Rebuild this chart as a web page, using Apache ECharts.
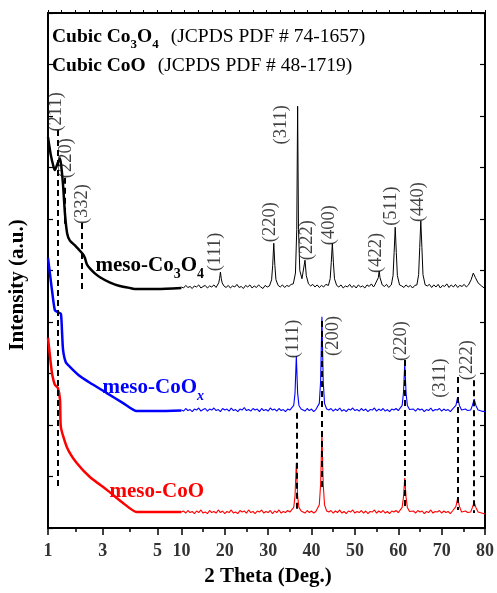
<!DOCTYPE html>
<html>
<head>
<meta charset="utf-8">
<script src="https://cdn.jsdelivr.net/npm/echarts@6.0.0/dist/echarts.min.js"></script>
<style>
  html, body { margin: 0; padding: 0; background: #fff; }
  #chart { width: 497px; height: 593px; }
</style>
</head>
<body>
<div id="chart"></div>
<script>
// 2 theta (deg) / intensity (a.u., stacked offsets)
const co3o4Low = [[1.00,7.59],[1.10,7.25],[1.20,7.02],[1.25,6.95],[1.35,7.08],[1.44,7.18],[1.50,6.95],[1.55,6.66],[1.62,6.10],[1.70,5.72],[1.80,5.58],[2.00,5.48],[2.24,5.34],[2.30,5.30],[2.35,5.24],[2.42,5.12],[2.53,5.04],[2.70,4.95],[2.90,4.87],[3.25,4.77],[3.62,4.70],[4.00,4.66],[4.24,4.64],[5.00,4.64],[10.0,4.66]]
const co3o4Wide = [[10,4.68],[10.5,4.66],[11,4.71],[11.5,4.67],[12,4.69],[12.5,4.65],[13,4.70],[13.5,4.68],[14,4.72],[14.5,4.66],[15,4.69],[15.5,4.71],[16,4.66],[16.5,4.70],[17,4.68],[17.5,4.72],[18,4.67],
  [18.2,4.70],[18.6,4.76],[18.8,4.84],[19.0,4.97],[19.2,4.84],[19.4,4.76],[19.8,4.70],
  [20.3,4.67],[20.8,4.71],[21.3,4.66],[21.8,4.70],[22.3,4.68],[22.8,4.73],[23.3,4.67],[23.8,4.69],[24.3,4.65],[24.8,4.71],[25.3,4.68],[25.8,4.72],[26.3,4.66],[26.8,4.70],[27.3,4.67],[27.8,4.72],[28.3,4.68],[28.8,4.65],[29.3,4.71],[29.8,4.68],
  [30.3,4.70],[30.8,4.82],[31.05,5.10],[31.3,5.53],[31.55,5.10],[31.8,4.82],[32.3,4.71],
  [32.8,4.68],[33.3,4.72],[33.8,4.67],[34.3,4.71],[34.8,4.69],[35.3,4.73],
  [35.8,4.74],[36.3,4.95],[36.6,5.80],[36.8,8.19],[37.0,5.80],[37.3,5.00],[37.8,4.84],[38.2,4.86],[38.5,5.20],[38.8,4.90],[39.3,4.74],
  [39.8,4.70],[40.3,4.73],[40.8,4.68],[41.3,4.72],[41.8,4.67],[42.3,4.71],[42.8,4.68],[43.3,4.73],
  [43.9,4.71],[44.3,4.84],[44.55,5.15],[44.8,5.53],[45.05,5.15],[45.3,4.84],[45.8,4.71],
  [46.3,4.68],[46.8,4.72],[47.3,4.66],[47.8,4.70],[48.3,4.68],[48.8,4.73],[49.3,4.67],[49.8,4.71],[50.3,4.66],[50.8,4.72],[51.3,4.68],[51.8,4.70],[52.3,4.66],[52.8,4.72],[53.3,4.69],[53.8,4.74],[54.3,4.68],[54.6,4.72],
  [55.0,4.72],[55.4,4.86],[55.6,4.99],[55.8,4.86],[56.3,4.72],
  [56.8,4.69],[57.3,4.73],[57.8,4.67],
  [58.4,4.72],[58.8,4.90],[59.05,5.35],[59.3,5.84],[59.55,5.35],[59.8,4.90],[60.3,4.72],
  [60.8,4.70],[61.3,4.67],[61.8,4.72],[62.3,4.68],[62.8,4.71],[63.3,4.66],[63.8,4.71],
  [64.3,4.72],[64.7,4.92],[64.95,5.45],[65.2,5.96],[65.45,5.45],[65.7,4.92],[66.2,4.72],
  [66.7,4.70],[67.2,4.73],[67.7,4.67],[68.2,4.72],[68.7,4.68],[69.2,4.73],[69.7,4.66],[70.2,4.71],[70.7,4.69],[71.2,4.74],[71.7,4.67],[72.2,4.72],[72.7,4.68],[73.2,4.73],[73.7,4.67],[74.2,4.71],[74.7,4.69],[75.2,4.73],[75.7,4.68],
  [76.2,4.72],[76.8,4.82],[77.3,4.95],[77.8,4.86],[78.4,4.76],[78.8,4.73],[79.2,4.70],[79.6,4.68],[80,4.65]]

const cooxLow = [[1.00,5.24],[1.08,4.90],[1.145,4.62],[1.25,4.23],[1.36,4.19],[1.47,4.16],[1.51,3.84],[1.55,3.46],[1.65,3.22],[1.80,3.13],[2.16,2.95],[2.53,2.82],[3.15,2.62],[3.73,2.43],[4.24,2.27],[5.00,2.27],[10.0,2.28]]
const cooxWide = [[10,2.29],[10.5,2.27],[11,2.32],[11.5,2.28],[12,2.30],[12.5,2.26],[13,2.31],[13.5,2.29],[14,2.33],[14.5,2.27],[15,2.30],[15.5,2.32],[16,2.27],[16.5,2.31],[17,2.29],[17.5,2.33],[18,2.28],[18.5,2.30],[19,2.26],[19.5,2.32],[20,2.29],[20.5,2.31],[21,2.27],[21.5,2.33],[22,2.28],[22.5,2.30],[23,2.26],[23.5,2.31],[24,2.29],[24.5,2.34],[25,2.28],[25.5,2.30],[26,2.27],[26.5,2.32],[27,2.29],[27.5,2.31],[28,2.26],[28.5,2.32],[29,2.28],[29.5,2.30],[30,2.27],[30.5,2.33],[31,2.29],[31.5,2.31],[32,2.27],[32.5,2.32],[33,2.28],[33.5,2.30],[34,2.26],[34.5,2.31],[35,2.29],
  [35.4,2.31],[35.9,2.38],[36.2,2.62],[36.5,3.34],[36.8,2.62],[37.1,2.38],[37.6,2.31],
  [38,2.30],[38.5,2.27],[39,2.32],[39.5,2.28],[40,2.31],[40.5,2.26],[41,2.30],
  [41.3,2.31],[41.8,2.42],[42.1,2.85],[42.4,4.10],[42.7,2.85],[43.0,2.42],[43.5,2.31],
  [44,2.29],[44.5,2.32],[45,2.27],[45.5,2.31],[46,2.28],[46.5,2.33],[47,2.27],[47.5,2.30],[48,2.26],[48.5,2.31],[49,2.29],[49.5,2.33],[50,2.28],[50.5,2.30],[51,2.27],[51.5,2.32],[52,2.28],[52.5,2.31],[53,2.26],[53.5,2.30],[54,2.29],[54.5,2.33],[55,2.27],[55.5,2.31],[56,2.28],[56.5,2.32],[57,2.27],[57.5,2.30],[58,2.26],[58.5,2.31],[59,2.29],[59.5,2.32],[60,2.28],
  [60.4,2.30],[60.9,2.38],[61.2,2.62],[61.5,3.20],[61.8,2.62],[62.1,2.38],[62.6,2.30],
  [63,2.28],[63.5,2.31],[64,2.27],[64.5,2.32],[65,2.29],[65.5,2.31],[66,2.26],[66.5,2.30],[67,2.28],[67.5,2.33],[68,2.27],[68.5,2.30],[69,2.29],[69.5,2.32],[70,2.27],[70.5,2.31],[71,2.28],[71.5,2.30],[72,2.26],[72.5,2.31],
  [72.9,2.29],[73.3,2.38],[73.7,2.54],[74.1,2.38],[74.6,2.29],
  [75,2.27],[75.5,2.31],[76,2.28],[76.3,2.30],
  [76.7,2.29],[77.1,2.38],[77.5,2.50],[77.9,2.38],[78.4,2.29],
  [78.8,2.30],[79.2,2.27],[79.6,2.29],[80,2.26]]

const cooLow = [[1.00,3.69],[1.08,3.30],[1.145,3.01],[1.25,2.78],[1.36,2.72],[1.44,2.49],[1.47,1.96],[1.69,1.57],[2.05,1.26],[2.53,0.99],[3.15,0.74],[3.73,0.49],[4.24,0.31],[5.00,0.31],[10.0,0.31]]
const cooWide = [[10,0.31],[10.5,0.33],[11,0.29],[11.5,0.34],[12,0.30],[12.5,0.32],[13,0.28],[13.5,0.33],[14,0.30],[14.5,0.35],[15,0.29],[15.5,0.31],[16,0.28],[16.5,0.34],[17,0.30],[17.5,0.32],[18,0.29],[18.5,0.35],[19,0.30],[19.5,0.33],[20,0.28],[20.5,0.32],[21,0.30],[21.5,0.35],[22,0.29],[22.5,0.31],[23,0.28],[23.5,0.34],[24,0.31],[24.5,0.33],[25,0.29],[25.5,0.35],[26,0.30],[26.5,0.32],[27,0.28],[27.5,0.33],[28,0.31],[28.5,0.35],[29,0.29],[29.5,0.32],[30,0.30],[30.5,0.34],[31,0.28],[31.5,0.33],[32,0.30],[32.5,0.35],[33,0.29],[33.5,0.32],[34,0.30],[34.5,0.34],[35,0.31],
  [35.4,0.33],[35.9,0.40],[36.2,0.62],[36.5,1.26],[36.8,0.62],[37.1,0.40],[37.6,0.33],
  [38,0.32],[38.5,0.29],[39,0.34],[39.5,0.30],[40,0.33],[40.5,0.29],[41,0.32],
  [41.3,0.33],[41.8,0.45],[42.1,0.85],[42.4,1.84],[42.7,0.85],[43.0,0.45],[43.5,0.33],
  [44,0.31],[44.5,0.34],[45,0.29],[45.5,0.33],[46,0.30],[46.5,0.35],[47,0.29],[47.5,0.32],[48,0.28],[48.5,0.33],[49,0.31],[49.5,0.35],[50,0.29],[50.5,0.32],[51,0.30],[51.5,0.34],[52,0.29],[52.5,0.33],[53,0.28],[53.5,0.32],[54,0.31],[54.5,0.35],[55,0.29],[55.5,0.33],[56,0.30],[56.5,0.34],[57,0.29],[57.5,0.32],[58,0.28],[58.5,0.33],[59,0.31],[59.5,0.34],[60,0.30],
  [60.4,0.32],[60.9,0.40],[61.2,0.60],[61.5,0.97],[61.8,0.60],[62.1,0.40],[62.6,0.32],
  [63,0.30],[63.5,0.33],[64,0.29],[64.5,0.34],[65,0.31],[65.5,0.33],[66,0.28],[66.5,0.32],[67,0.30],[67.5,0.35],[68,0.29],[68.5,0.32],[69,0.31],[69.5,0.34],[70,0.29],[70.5,0.33],[71,0.30],[71.5,0.32],[72,0.28],[72.5,0.33],
  [72.9,0.31],[73.3,0.42],[73.7,0.58],[74.1,0.42],[74.6,0.31],
  [75,0.29],[75.5,0.33],[76,0.30],[76.3,0.32],
  [76.7,0.31],[77.1,0.40],[77.5,0.50],[77.9,0.40],[78.4,0.31],
  [78.8,0.32],[79.2,0.29],[79.6,0.31],[80,0.27]]

// reference lines (JCPDS positions)
const refTheta = [1.36, 1.62, 2.22, 36.5, 42.4, 61.5, 73.7, 77.5]
const refFrom = [7.73, 6.80, 5.92, 2.24, 4.02, 3.26, 2.93, 2.87]
const refTo = [0.78, 5.83, 4.62, 0.35, 0.74, 0.35, 0.35, 0.29]

// hkl annotations
const co3o4Hkl = ['(211)', '(220)', '(332)', '(111)', '(220)', '(311)', '(222)', '(400)', '(422)', '(511)', '(440)']
const co3o4HklTheta = [1.29, 1.65, 2.24, 17.8, 30.4, 33.0, 38.9, 44.0, 54.8, 58.4, 64.6]
const co3o4HklLevel = [8.08, 7.18, 6.29, 5.36, 5.94, 7.83, 5.59, 5.88, 5.34, 6.25, 6.33]
const cooxHkl = ['(111)', '(200)', '(220)', '(311)', '(222)']
const cooxHklTheta = [35.7, 45.1, 60.7, 69.7, 75.9]
const cooxHklLevel = [3.67, 3.73, 3.63, 2.91, 3.26]

const majorTicks = [1, 3, 5, 10, 20, 30, 40, 50, 60, 70, 80]
const minorTicks = [2, 4, 15, 25, 35, 45, 55, 65, 75]

// piecewise 2theta scale: 1-5 stretched, 5-10 squeezed, 10-80 linear
const thetaToAxis = (t) => {
  if (t <= 5) return (t - 1) * 27.5
  if (t <= 10) return 110 + (t - 5) * 4.8
  return 134 + (t - 10) * 4.357
}
const AX_MAX = thetaToAxis(80)
const toAxis = (pts) => pts.map(([t, v]) => [thetaToAxis(t), v])

const serif = '"Liberation Serif", "DejaVu Serif", serif'
const BLUE = '#0000ff'
const RED = '#ff0000'

const chart = echarts.init(document.getElementById('chart'))

const curve = (data, color, width) => ({
  type: 'line',
  data: toAxis(data),
  showSymbol: false,
  symbol: 'none',
  smooth: width > 2 ? 0.2 : false,
  lineStyle: { color, width },
  z: 3,
  animation: false,
})

const hklLabels = (names, thetas, levels) => ({
  type: 'scatter',
  symbolSize: 0,
  data: names.map((n, i) => ({ value: [thetaToAxis(thetas[i]), levels[i]], name: n })),
  label: {
    show: true,
    position: 'inside',
    rotate: 90,
    formatter: '{b}',
    color: '#111',
    fontFamily: serif,
    fontSize: 18.5,
  },
  z: 5,
  silent: true,
  animation: false,
})

const headBold = { fontFamily: serif, fontWeight: 'bold', fontSize: 19.5, lineHeight: 28, fill: '#000' }
const headSub = { fontFamily: serif, fontWeight: 'bold', fontSize: 13, lineHeight: 13, verticalAlign: 'bottom', fill: '#000' }
const headReg = { fontFamily: serif, fontSize: 19.5, lineHeight: 28, fill: '#000', padding: [0, 0, 0, 12] }

const option = {
  backgroundColor: '#fff',
  animation: false,
  grid: { left: 48, right: 10, top: 13, bottom: 65 },
  xAxis: [
    {
      type: 'value',
      position: 'bottom',
      min: 0,
      max: AX_MAX,
      axisLine: { show: true, onZero: false, lineStyle: { color: '#000', width: 2 } },
      axisTick: {
        show: true,
        customValues: majorTicks.map(thetaToAxis),
        length: 7,
        lineStyle: { color: '#000', width: 1.5 },
      },
      axisLabel: {
        customValues: majorTicks.map(thetaToAxis),
        formatter: (v) => {
          const hit = majorTicks.find((t) => Math.abs(thetaToAxis(t) - v) < 0.01)
          return hit === undefined ? '' : String(hit)
        },
        color: '#333',
        fontFamily: serif,
        fontWeight: 'bold',
        fontSize: 18,
        margin: 14,
      },
      splitLine: { show: false },
    },
    {
      type: 'value',
      position: 'bottom',
      min: 0,
      max: AX_MAX,
      axisLine: { show: false, onZero: false },
      axisTick: {
        show: true,
        customValues: minorTicks.map(thetaToAxis),
        length: 4,
        lineStyle: { color: '#000', width: 1.5 },
      },
      axisLabel: { show: false },
      splitLine: { show: false },
    },
    {
      type: 'value',
      position: 'top',
      min: 0,
      max: 32,
      interval: 1,
      axisLine: { show: true, onZero: false, lineStyle: { color: '#000', width: 2 } },
      axisTick: { show: true, length: 3, lineStyle: { color: '#000', width: 1 } },
      axisLabel: { show: false },
      splitLine: { show: false },
    },
  ],
  yAxis: [
    {
      type: 'value',
      position: 'left',
      min: 0,
      max: 10,
      interval: 1,
      axisLine: { show: true, onZero: false, lineStyle: { color: '#000', width: 2 } },
      axisTick: { show: true, inside: true, length: 5, lineStyle: { color: '#000', width: 1.2 } },
      axisLabel: { show: false },
      splitLine: { show: false },
    },
    {
      type: 'value',
      position: 'right',
      min: 0,
      max: 10,
      interval: 1,
      axisLine: { show: true, onZero: false, lineStyle: { color: '#000', width: 2 } },
      axisTick: { show: true, inside: true, length: 5, lineStyle: { color: '#000', width: 1.2 } },
      axisLabel: { show: false },
      splitLine: { show: false },
    },
  ],
  series: [
    curve(co3o4Low, '#000', 2.5),
    curve(co3o4Wide, '#000', 1),
    curve(cooxLow, BLUE, 2.5),
    curve(cooxWide, BLUE, 1.1),
    curve(cooLow, RED, 2.5),
    curve(cooWide, RED, 1.1),
    {
      type: 'line',
      data: [],
      markLine: {
        silent: true,
        symbol: 'none',
        label: { show: false },
        lineStyle: { color: '#000', type: [6, 4], width: 2 },
        data: refTheta.map((t, i) => [
          { coord: [thetaToAxis(t), refFrom[i]] },
          { coord: [thetaToAxis(t), refTo[i]] },
        ]),
        animation: false,
      },
      z: 4,
    },
    hklLabels(co3o4Hkl, co3o4HklTheta, co3o4HklLevel),
    hklLabels(cooxHkl, cooxHklTheta, cooxHklLevel),
  ],
  graphic: [
    {
      type: 'text',
      x: 52, y: 37,
      style: {
        text: '{b|Cubic Co}{s|3}{b|O}{s|4}{r|(JCPDS PDF # 74-1657)}',
        verticalAlign: 'middle',
        rich: { b: headBold, s: headSub, r: headReg },
      },
    },
    {
      type: 'text',
      x: 52, y: 66,
      style: {
        text: '{b|Cubic CoO}{r|(JCPDS PDF # 48-1719)}',
        verticalAlign: 'middle',
        rich: { b: headBold, r: headReg },
      },
    },
    {
      type: 'text',
      x: 204, y: 266,
      z: 10,
      style: {
        text: '{b|meso-Co}{s|3}{b|O}{s|4}',
        align: 'right',
        verticalAlign: 'middle',
        rich: {
          b: { fontFamily: serif, fontWeight: 'bold', fontSize: 21, lineHeight: 30, fill: '#000' },
          s: { fontFamily: serif, fontWeight: 'bold', fontSize: 14, lineHeight: 14, verticalAlign: 'bottom', fill: '#000' },
        },
      },
    },
    {
      type: 'text',
      x: 204, y: 388,
      z: 10,
      style: {
        text: '{b|meso-CoO}{s|x}',
        align: 'right',
        verticalAlign: 'middle',
        rich: {
          b: { fontFamily: serif, fontWeight: 'bold', fontSize: 21, lineHeight: 30, fill: BLUE },
          s: { fontFamily: serif, fontWeight: 'bold', fontStyle: 'italic', fontSize: 14, lineHeight: 14, verticalAlign: 'bottom', fill: BLUE },
        },
      },
    },
    {
      type: 'text',
      x: 204, y: 492,
      z: 10,
      style: {
        text: 'meso-CoO',
        align: 'right',
        verticalAlign: 'middle',
        fontFamily: serif,
        fontWeight: 'bold',
        fontSize: 21,
        fill: RED,
      },
    },
    {
      type: 'text',
      x: 18, y: 285,
      rotation: Math.PI / 2,
      style: {
        text: 'Intensity (a.u.)',
        align: 'center',
        verticalAlign: 'middle',
        fontFamily: serif,
        fontWeight: 'bold',
        fontSize: 21,
        fill: '#000',
      },
    },
    {
      type: 'text',
      x: 268, y: 577,
      style: {
        text: '2 Theta (Deg.)',
        align: 'center',
        verticalAlign: 'middle',
        fontFamily: serif,
        fontWeight: 'bold',
        fontSize: 21,
        fill: '#000',
      },
    },
  ],
}

chart.setOption(option)
</script>
</body>
</html>
